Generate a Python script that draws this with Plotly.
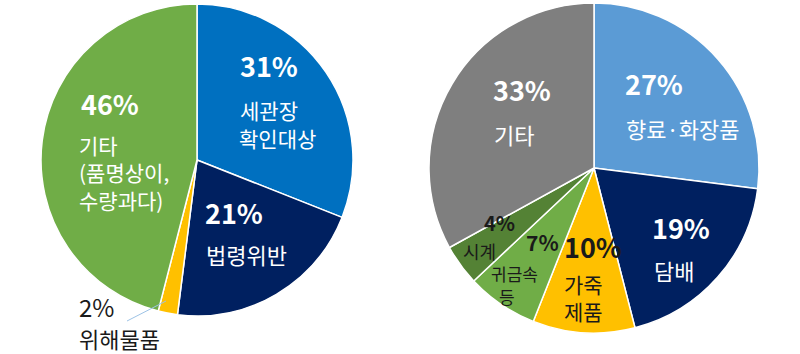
import plotly.graph_objects as go

W, H = 800, 354

# ---- data ----
left_labels = ["세관장 확인대상", "법령위반", "위해물품", "기타 (품명상이, 수량과다)"]
left_values = [31, 21, 2, 46]
right_labels = ["향료·화장품", "담배", "가죽제품", "귀금속 등", "시계", "기타"]
right_values = [27, 19, 10, 7, 4, 33]

left_colors = ["#0070C0", "#002060", "#FFC000", "#70AD47"]
right_colors = ["#5B9BD5", "#002060", "#FFC000", "#70AD47", "#548235", "#7F7F7F"]

FONT = "Noto Sans CJK KR"


def px(x, y):
    return x / W, 1 - y / H


def dom(cx, cy, r):
    x0, y1 = px(cx - r, cy - r)
    x1, y0 = px(cx + r, cy + r)
    return dict(x=[x0, x1], y=[y0, y1])


fig = go.Figure()
fig.add_trace(go.Pie(
    labels=left_labels, values=left_values, sort=False, direction="clockwise",
    rotation=0, textinfo="none", hoverinfo="label+percent",
    marker=dict(colors=left_colors, line=dict(color="white", width=1.5)),
    domain=dom(197, 160, 156), showlegend=False,
))
fig.add_trace(go.Pie(
    labels=right_labels, values=right_values, sort=False, direction="clockwise",
    rotation=0, textinfo="none", hoverinfo="label+percent",
    marker=dict(colors=right_colors, line=dict(color="white", width=1.5)),
    domain=dom(594, 168, 165), showlegend=False,
))

# ---- text placement (layout only) ----
# (text, x_left, y_center, size, bold, color)
WHITE, BLACK = "#FFFFFF", "#1A1A1A"
texts = [
    (f"{left_values[0]}%", 239, 65, 27, True, WHITE),
    ("세관장", 239, 110, 21, False, WHITE),
    ("확인대상", 238, 138, 21, False, WHITE),
    (f"{left_values[1]}%", 204, 212, 27, True, WHITE),
    ("법령위반", 205, 254, 22, False, WHITE),
    (f"{left_values[3]}%", 80, 103, 27, True, WHITE),
    ("기타<br>(품명상이,<br>수량과다)", 78, 172, 21, False, WHITE),
    (f"{left_values[2]}%", 78, 306, 24, False, BLACK),
    ("위해물품", 78, 338, 22, False, BLACK),

    (f"{right_values[5]}%", 492, 89, 27, True, WHITE),
    ("기타", 493, 134, 22, False, WHITE),
    (f"{right_values[0]}%", 624, 83, 27, True, WHITE),
    ("향료·화장품", 625, 128, 22, False, WHITE),
    (f"{right_values[1]}%", 651, 227, 27, True, WHITE),
    ("담배", 653, 270, 22, False, WHITE),
    (f"{right_values[2]}%", 563, 246, 27, True, BLACK),
    ("가죽<br>제품", 563, 297, 21, False, BLACK),
    (f"{right_values[3]}%", 525, 242, 21, True, BLACK),
    ("귀금속", 490, 273, 17, False, BLACK),
    ("등", 498, 296, 17, False, BLACK),
    (f"{right_values[4]}%", 483, 222, 20, True, BLACK),
    ("시계", 462, 251, 18, False, BLACK),
]

for t, x, y, s, b, c in texts:
    ax, ay = px(x, y)
    fig.add_annotation(
        x=ax, y=ay, xref="paper", yref="paper", xanchor="left", yanchor="middle",
        align="left", borderpad=0,
        text=f"<b>{t}</b>" if b else t, showarrow=False,
        font=dict(family=FONT, size=s, color=c),
    )

# leader line for 2%
x0, y0 = px(127, 321)
x1, y1 = px(166, 301)
fig.add_shape(type="line", xref="paper", yref="paper", x0=x0, y0=y0, x1=x1, y1=y1,
              line=dict(color="#9DC3E6", width=1))

fig.update_layout(
    width=W, height=H, margin=dict(l=0, r=0, t=0, b=0),
    paper_bgcolor="white", plot_bgcolor="white",
    font=dict(family=FONT),
)

fig.write_html("out.html")
